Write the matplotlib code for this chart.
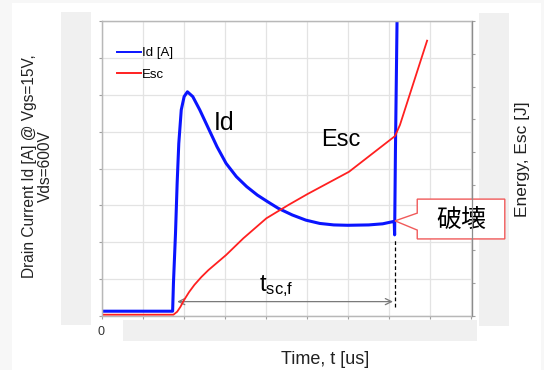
import matplotlib
matplotlib.use("Agg")
import matplotlib.pyplot as plt
from matplotlib.patches import Rectangle, Polygon

plt.rcParams['font.family'] = ['Liberation Sans', 'Noto Sans CJK JP', 'DejaVu Sans']
plt.rcParams['mathtext.fontset'] = 'custom'
plt.rcParams['mathtext.rm'] = 'Liberation Sans'
plt.rcParams['mathtext.it'] = 'Liberation Sans'

# ---- data (time in grid units) ----
t_id = [0, 1.73, 1.75, 1.80, 1.84, 1.88, 1.94, 2.01, 2.09, 2.22, 2.39, 2.60, 2.81, 3.03,
        3.28, 3.53, 3.79, 4.04, 4.30, 4.64, 4.97, 5.31, 5.65, 5.99, 6.50, 6.84, 7.09,
        7.12, 7.13, 7.15, 7.20]
id_vals = [0.13, 0.13, 0.89, 2.24, 3.60, 4.68, 5.59, 5.95, 6.08, 5.95, 5.59, 5.09, 4.59, 4.14,
           3.78, 3.51, 3.28, 3.10, 2.92, 2.74, 2.60, 2.51, 2.47, 2.46, 2.47, 2.50, 2.56,
           2.56, 2.20, 4.50, 9.00]

t_esc = [0, 1.75, 1.84, 1.92, 2.01, 2.13, 2.26, 2.43, 2.60, 3.03, 3.45, 4.01, 4.55, 5.01,
         6.02, 7.14, 7.26, 7.92]
esc_vals = [0.04, 0.04, 0.13, 0.28, 0.49, 0.73, 0.95, 1.19, 1.40, 1.86, 2.37, 2.98, 3.39,
            3.72, 4.40, 5.49, 5.83, 8.40]

x_ticks = list(range(0, 10))
x_tick_labels = ['0'] + [''] * 9

fig = plt.figure(figsize=(5.44, 3.70), dpi=100)
fig.patch.set_facecolor('#f7f7f7')
W, H = 544, 370

def frect(x0, y0, x1, y1, color, z=0.5):
    fig.patches.append(Rectangle((x0 / W, 1 - y1 / H), (x1 - x0) / W, (y1 - y0) / H,
                                 transform=fig.transFigure, facecolor=color,
                                 edgecolor='none', zorder=z))

frect(12, 3, 541, 371, 'white', z=-5)
# gray masking panels
frect(61, 12, 91, 325, '#f0f0f0')
frect(479, 13, 509, 326, '#f0f0f0')
frect(123, 320, 477, 341, '#f0f0f0')

L, R, T, B = 101.5, 471.5, 21, 316
ax = fig.add_axes([L / W, 1 - B / H, (R - L) / W, (B - T) / H])
ax2 = ax.twinx()
ax.set_zorder(2)
ax2.set_zorder(3)
ax.patch.set_alpha(0)
ax2.patch.set_alpha(0)

ax.set_xlim(0, 9)
ax.set_ylim(0, 8)
ax2.set_ylim(0, 9)

ax.set_xticks(x_ticks)
ax.set_xticklabels(x_tick_labels, fontsize=9, color='#333333')
ax.set_yticks(range(0, 9))
ax.set_yticklabels([])
ax2.set_yticks(range(0, 10))
ax2.set_yticklabels([])
ax.grid(True, color='#e3e3e3', linewidth=0.9)
ax.set_axisbelow(True)
for a in (ax, ax2):
    for s in a.spines.values():
        s.set_color('#b8b8b8')
        s.set_linewidth(0.9)
    a.tick_params(length=2.5, color='#a0a0a0', width=0.8)
ax.tick_params(axis='x', pad=5)
ax2.spines['right'].set_color('#8c8c8c')

ln1, = ax.plot(t_id, id_vals, color='#0a14ff', linewidth=2.2, label='Id [A]')
ln2, = ax2.plot(t_esc, esc_vals, color='#ff2020', linewidth=1.3, label='Esc')

leg = ax.legend([ln1, ln2], ['Id [A]', 'Esc'], loc='upper left',
                bbox_to_anchor=((117 - L) / (R - L), (B - 47) / (B - T)),
                frameon=False, fontsize=9.5, handlelength=1.8, handletextpad=0.1,
                labelspacing=0.72, borderaxespad=0, borderpad=0)
for hl in leg.get_lines():
    hl.set_linewidth(1.4)

# annotations
ax.text(2.98, 5.23, 'Id', fontsize=18, ha='center', va='center', color='black')
ax.text(5.82, 4.77, 'Esc', fontsize=17, ha='center', va='center', color='black')
ax.text(4.24, 0.80, r'$\mathregular{t_{sc{,}f}}$', fontsize=17, ha='center', va='center')
ax.annotate('', xy=(1.84, 0.39), xytext=(7.09, 0.39),
            arrowprops=dict(arrowstyle='<->,head_length=0.45,head_width=0.22',
                            color='#7a7a7a', lw=0.9, shrinkA=0, shrinkB=0))
ax.plot([7.13, 7.13], [0.24, 2.06], color='black', linestyle='--', linewidth=0.9, dashes=(3, 2))

# callout box with pointer
callout = Polygon([(7.68, 3.17), (9.81, 3.17), (9.81, 2.09), (7.68, 2.09), (7.68, 2.33),
                   (7.14, 2.58), (7.68, 2.79)], closed=True, facecolor='white',
                  edgecolor='#f05a5a', linewidth=1.0, clip_on=False, zorder=5)
ax.add_patch(callout)
ax.text(8.75, 2.60, '破壊', fontsize=18, ha='center', va='center', zorder=6,
        family=['Noto Sans CJK JP', 'DejaVu Sans'], clip_on=False)

ax.set_xlabel('Time, t [us]', fontsize=13, color='#222222')
ax.xaxis.set_label_coords((325 - L) / (R - L), (B - 360) / (B - T))
ax.xaxis.label.set_va('center')
ax.set_ylabel('Drain Current Id [A] @ Vgs=15V,\nVds=600V', fontsize=11.2, color='#222222',
              linespacing=1.15)
ax.yaxis.set_label_coords((37.5 - L) / (R - L), (B - 166.5) / (B - T))
ax.yaxis.label.set_va('center')
ax2.set_ylabel('Energy, Esc [J]', fontsize=12.5, color='#222222')
ax2.yaxis.set_label_coords((523 - L) / (R - L), (B - 159) / (B - T))
ax2.yaxis.label.set_va('center')

fig.savefig('out.png', dpi=100, facecolor=fig.get_facecolor())
